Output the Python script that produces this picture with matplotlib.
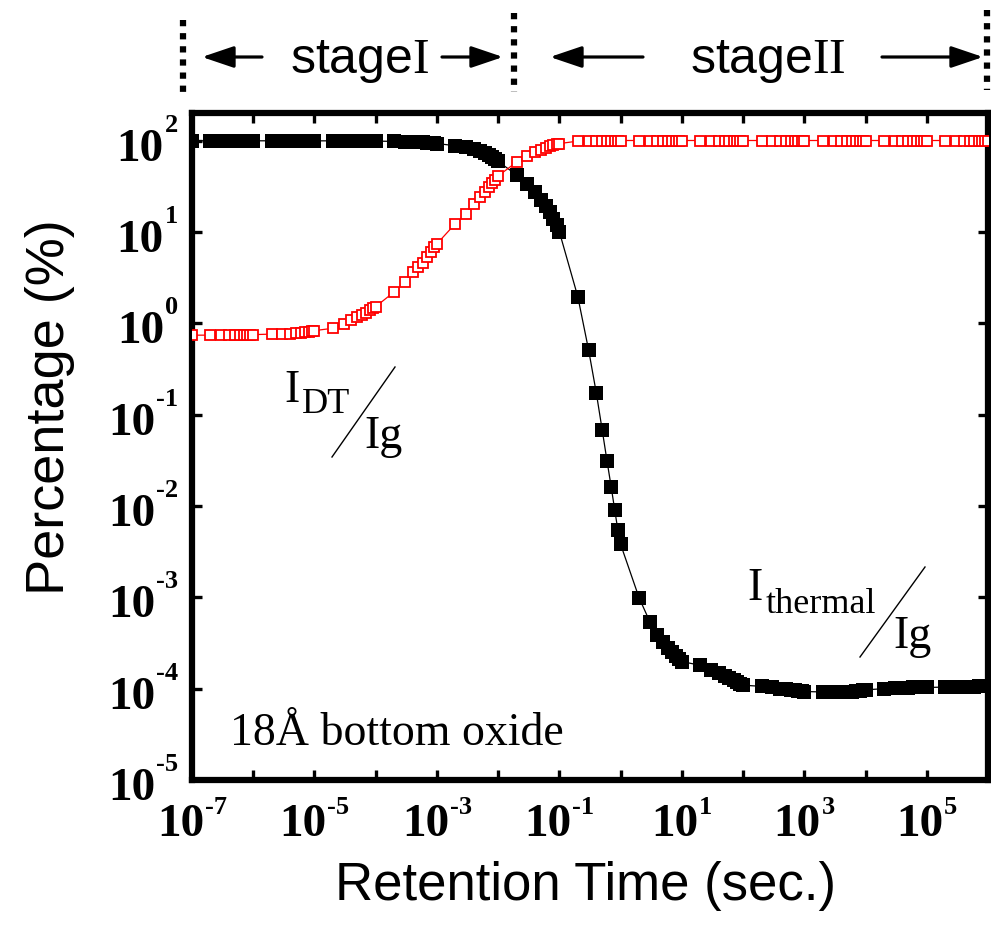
import numpy as np
import matplotlib
matplotlib.use("Agg")
import matplotlib.pyplot as plt
from matplotlib.ticker import FixedLocator, NullLocator, NullFormatter
from matplotlib.lines import Line2D
from matplotlib.transforms import IdentityTransform

plt.rcParams.update({
    "font.family": "Liberation Sans",
    "mathtext.fontset": "custom",
    "mathtext.rm": "Liberation Serif",
    "mathtext.bf": "Liberation Serif:bold",
    "mathtext.it": "Liberation Serif:italic",
})

# measurement grid: 1..9 x 10^n seconds
exponents = list(range(-7, 6))
mantissas = [1, 2, 3, 4, 5, 6, 7, 8, 9]
time_s = [m * 10.0 ** e for e in exponents for m in mantissas] + [1e6]

# I_thermal / Ig  (%)
thermal_pct = [
    99.26, 99.26, 99.26, 99.25, 99.25, 99.25, 99.25, 99.25, 99.25,
    99.25, 99.24, 99.24, 99.23, 99.22, 99.21, 99.20, 99.19, 99.18,
    99.17, 99.12, 99.02, 98.92, 98.82, 98.76, 98.69, 98.60, 98.54,
    98.48, 97.8, 97.2, 96.4, 95.9, 95.4, 94.7, 94.0, 93.2,
    92.6, 87.7, 84.5, 80.0, 76.0, 72.5, 69.0, 66.0, 63.5,
    59.0, 42.0, 33.0, 27.0, 22.5, 19.0, 16.5, 14.0, 12.0,
    10.0, 1.95, 0.51, 0.174, 0.068, 0.031, 0.0163, 0.0091, 0.0055,
    0.0038, 9.9e-4, 5.4e-4, 3.9e-4, 3.2e-4, 2.8e-4, 2.5e-4, 2.3e-4, 2.1e-4,
    1.98e-4, 1.8e-4, 1.6e-4, 1.48e-4, 1.38e-4, 1.3e-4, 1.24e-4, 1.18e-4, 1.13e-4,
    1.09e-4, 1.06e-4, 1.03e-4, 1.0e-4, 0.98e-4, 0.97e-4, 0.96e-4, 0.95e-4, 0.94e-4,
    0.93e-4, 0.92e-4, 0.92e-4, 0.92e-4, 0.93e-4, 0.93e-4, 0.94e-4, 0.95e-4, 0.96e-4,
    0.97e-4, 1.0e-4, 1.01e-4, 1.02e-4, 1.02e-4, 1.03e-4, 1.03e-4, 1.03e-4, 1.03e-4,
    1.03e-4, 1.04e-4, 1.04e-4, 1.05e-4, 1.05e-4, 1.05e-4, 1.06e-4, 1.06e-4, 1.06e-4,
    1.06e-4,
]

# I_DT / Ig  (%)
dt_pct = [
    0.74, 0.74, 0.74, 0.75, 0.75, 0.75, 0.75, 0.75, 0.75,
    0.75, 0.76, 0.76, 0.77, 0.78, 0.79, 0.80, 0.81, 0.82,
    0.83, 0.88, 0.98, 1.08, 1.18, 1.24, 1.31, 1.40, 1.46,
    1.52, 2.2, 2.8, 3.6, 4.1, 4.6, 5.3, 6.0, 6.8,
    7.4, 12.3, 15.5, 20.0, 24.0, 27.5, 31.0, 34.0, 36.5,
    41.0, 58.0, 68.0, 74.0, 79.0, 83.0, 86.0, 88.5, 90.5,
    92.5, 98.5, 99.5, 99.8, 99.9, 99.97, 99.98, 99.99, 99.99,
    100.0, 100.0, 100.0, 100.0, 100.0, 100.0, 100.0, 100.0, 100.0,
    100.0, 100.0, 100.0, 100.0, 100.0, 100.0, 100.0, 100.0, 100.0,
    100.0, 100.0, 100.0, 100.0, 100.0, 100.0, 100.0, 100.0, 100.0,
    100.0, 100.0, 100.0, 100.0, 100.0, 100.0, 100.0, 100.0, 100.0,
    100.0, 100.0, 100.0, 100.0, 100.0, 100.0, 100.0, 100.0, 100.0,
    100.0, 100.0, 100.0, 100.0, 100.0, 100.0, 100.0, 100.0, 100.0,
    100.0,
]

x_tick_exp = list(range(-7, 7))
x_label_exp = [-7, -5, -3, -1, 1, 3, 5]
y_tick_exp = list(range(-5, 3))

W, H = 991, 941
fig = plt.figure(figsize=(W / 100, H / 100), dpi=100)


def fx(px):
    return px / W


def fy(py):
    return 1 - py / H


ax = fig.add_axes([fx(192), fy(780), (988 - 192) / W, (780 - 113) / H])

ax.plot(time_s, thermal_pct, color="black", lw=0.9, marker="s", ms=10,
        mfc="black", mec="black", mew=0, zorder=3)
ax.plot(time_s, dt_pct, color="red", lw=0.9, marker="s", ms=7.6,
        mfc="white", mec="red", mew=1.3, zorder=4)

ax.set_xscale("log")
ax.set_yscale("log")
ax.set_xlim(1e-7, 1e6)
ax.set_ylim(1e-5, 200)

ax.xaxis.set_major_locator(FixedLocator([10.0 ** e for e in x_tick_exp]))
ax.yaxis.set_major_locator(FixedLocator([10.0 ** e for e in y_tick_exp]))
ax.xaxis.set_minor_locator(NullLocator())
ax.yaxis.set_minor_locator(NullLocator())
ax.xaxis.set_major_formatter(NullFormatter())
ax.yaxis.set_major_formatter(NullFormatter())

ax.tick_params(which="major", direction="in", length=7, width=2.4,
               top=True, right=True)

for sp in ax.spines.values():
    sp.set_linewidth(4.5)

ax.set_xlabel("Retention Time (sec.)", fontsize=38)
ax.xaxis.set_label_coords(0.494, -0.122)
ax.set_ylabel("Percentage (%)", fontsize=39)
ax.yaxis.set_label_coords(-0.147, 0.559)

serif = "Liberation Serif"

# power-of-ten tick labels: bold "10" with a small raised exponent
renderer = fig.canvas.get_renderer()
pix = IdentityTransform()
base_kw = dict(family=serif, weight="bold", size=34, va="baseline",
               transform=pix)
exp_kw = dict(family=serif, weight="bold", size=19, va="baseline",
              transform=pix)

x0_disp, y0_disp = ax.transData.transform((1e-7, 1e-5))

for e in y_tick_exp:
    yd = ax.transData.transform((1.0, 10.0 ** e))[1]
    right = x0_disp - 14
    t_exp = fig.text(right, yd + 9, str(e), ha="right", **exp_kw)
    w_exp = t_exp.get_window_extent(renderer).width
    fig.text(right - w_exp - 1, yd - 20, "10", ha="right", **base_kw)

for e in x_label_exp:
    xd = ax.transData.transform((10.0 ** e, 1.0))[0]
    t_base = fig.text(0, 0, "10", ha="left", **base_kw)
    t_exp = fig.text(0, 0, str(e), ha="left", **exp_kw)
    w_base = t_base.get_window_extent(renderer).width
    w_exp = t_exp.get_window_extent(renderer).width
    left = xd - (w_base + 1 + w_exp) / 2
    t_base.set_position((left, y0_disp - 56))
    t_exp.set_position((left + w_base + 1, y0_disp - 34))

# curve labels
fig.text(fx(284), fy(402), "I", family=serif, size=33, va="baseline")
fig.text(fx(302), fy(413), "DT", family=serif, size=26, va="baseline")
fig.add_artist(Line2D([fx(332), fx(395)], [fy(457), fy(367)],
                      transform=fig.transFigure, color="black", lw=1.0))
fig.text(fx(364), fy(448), "Ig", family=serif, size=33, va="baseline")

fig.text(fx(747), fy(600), "I", family=serif, size=33, va="baseline")
fig.text(fx(766), fy(613), "thermal", family=serif, size=26, va="baseline")
fig.add_artist(Line2D([fx(860), fx(925)], [fy(657), fy(567)],
                      transform=fig.transFigure, color="black", lw=1.0))
fig.text(fx(893), fy(648), "Ig", family=serif, size=33, va="baseline")

fig.text(fx(230), fy(745), "18Å bottom oxide", family=serif, size=33,
         va="baseline")

# stage markers above the plot
for px, top, bot in [(183, 20, 98), (514, 13, 92), (987, 10, 90)]:
    fig.add_artist(Line2D([fx(px), fx(px)], [fy(top), fy(bot)],
                          transform=fig.transFigure, color="black", lw=4.5,
                          ls=(0, (1, 1.1)), dash_capstyle="butt"))

arrow_kw = dict(arrowstyle="-|>,head_length=0.65,head_width=0.22", lw=2.3,
                color="black", shrinkA=0, shrinkB=0, mutation_scale=30)
for tail, head in [(262, 202), (442, 503), (643, 550), (882, 983)]:
    ax.annotate("", xy=(fx(head), fy(57)), xytext=(fx(tail), fy(57)),
                xycoords="figure fraction", textcoords="figure fraction",
                arrowprops=arrow_kw, annotation_clip=False)

fig.text(fx(360), fy(73), r"stage$\mathrm{I}$", size=36, ha="center",
         va="baseline")
fig.text(fx(767), fy(73), r"stage$\mathrm{II}$", size=36, ha="center",
         va="baseline")

fig.savefig("out.png", dpi=100)
